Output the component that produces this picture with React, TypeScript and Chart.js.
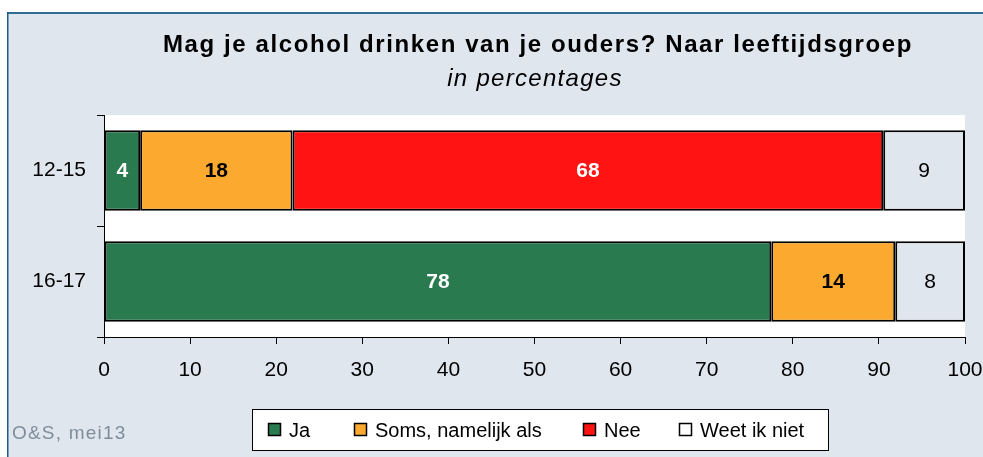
import React, { useEffect, useRef } from 'react';
import { Chart, registerables } from 'chart.js';

Chart.register(...registerables);

const categories = ['12-15', '16-17'];
const seriesNames = ['Ja', 'Soms, namelijk als', 'Nee', 'Weet ik niet'];
const seriesColors = ['#2a7a50', '#fbaa2f', '#ff1313', '#dfe6ee'];
const jaValues = [4.2, 77.5];
const somsValues = [17.7, 14.4];
const neeValues = [68.6, 0];
const weetValues = [9.5, 8.1];
const jaLabels = ['4', '78'];
const somsLabels = ['18', '14'];
const neeLabels = ['68', ''];
const weetLabels = ['9', '8'];
const labelColors = ['#ffffff', '#000000', '#ffffff', '#000000'];
const labelBold = [true, true, true, false];
const titleText = 'Mag je alcohol drinken van je ouders? Naar leeftijdsgroep';
const subtitleText = 'in percentages';
const sourceText = 'O&S, mei13';

const FONT = '"Liberation Sans", Arial, sans-serif';
const BG = '#dfe6ee';

const framePlugin = {
  id: 'frame',
  beforeDraw(chart: any) {
    const { ctx, width, height, chartArea } = chart;
    ctx.save();
    ctx.fillStyle = '#ffffff';
    ctx.fillRect(0, 0, width, height);
    ctx.fillStyle = BG;
    ctx.fillRect(7, 12, width - 7, height - 12);
    ctx.fillStyle = '#2e6e95';
    ctx.fillRect(7, 12, width - 7, 2);
    ctx.fillStyle = '#1f5a85';
    ctx.fillRect(7, 12, 1.5, height - 12);
    ctx.fillStyle = '#ffffff';
    ctx.fillRect(chartArea.left, chartArea.top, chartArea.right - chartArea.left, chartArea.bottom - chartArea.top);
    ctx.restore();
  },
};

const labelsPlugin = {
  id: 'barLabels',
  afterDatasetsDraw(chart: any) {
    const { ctx } = chart;
    const allLabels = [jaLabels, somsLabels, neeLabels, weetLabels];
    ctx.save();
    ctx.textAlign = 'center';
    ctx.textBaseline = 'middle';
    chart.data.datasets.forEach((ds: any, di: number) => {
      const meta = chart.getDatasetMeta(di);
      meta.data.forEach((el: any, i: number) => {
        const txt = allLabels[di][i];
        if (!txt) return;
        const cx = (el.x + el.base) / 2;
        ctx.font = `${labelBold[di] ? 'bold ' : ''}21px ${FONT}`;
        ctx.fillStyle = labelColors[di];
        ctx.fillText(txt, cx, el.y + 1);
      });
    });
    ctx.restore();
  },
  afterDraw(chart: any) {
    const { ctx } = chart;
    ctx.save();
    ctx.fillStyle = '#000000';
    ctx.textAlign = 'center';
    ctx.textBaseline = 'alphabetic';
    (ctx as any).letterSpacing = '1.6px';
    ctx.font = `bold 24px ${FONT}`;
    ctx.fillText(titleText, 538, 52);
    (ctx as any).letterSpacing = '1.3px';
    ctx.font = `italic 24px ${FONT}`;
    ctx.fillText(subtitleText, 535, 86);

    // source note
    (ctx as any).letterSpacing = '1.2px';
    ctx.textAlign = 'left';
    ctx.font = `19px ${FONT}`;
    ctx.fillStyle = '#7f8d9b';
    ctx.fillText(sourceText, 12, 439);

    // legend
    (ctx as any).letterSpacing = '0px';
    ctx.fillStyle = '#ffffff';
    ctx.fillRect(252.5, 409.5, 576, 41);
    ctx.strokeStyle = '#000000';
    ctx.lineWidth = 1;
    ctx.strokeRect(252.5, 409.5, 576, 41);
    const boxX = [268, 354, 583, 679];
    ctx.font = `20px ${FONT}`;
    seriesNames.forEach((name, i) => {
      ctx.fillStyle = i === 3 ? '#ffffff' : seriesColors[i];
      ctx.fillRect(boxX[i] + 0.5, 423.5, 12, 12);
      ctx.strokeStyle = '#000000';
      ctx.lineWidth = 1.5;
      ctx.strokeRect(boxX[i] + 0.5, 423.5, 12, 12);
      ctx.fillStyle = '#000000';
      ctx.fillText(name, boxX[i] + 21, 437);
    });
    ctx.restore();
  },
};

export default function App() {
  const canvasRef = useRef<HTMLCanvasElement | null>(null);

  useEffect(() => {
    const canvas = canvasRef.current;
    if (!canvas) return;
    const valueSets = [jaValues, somsValues, neeValues, weetValues];
    const chart = new Chart(canvas, {
      type: 'bar',
      data: {
        labels: categories,
        datasets: seriesNames.map((name, i) => ({
          label: name,
          data: valueSets[i],
          backgroundColor: seriesColors[i],
          borderColor: '#000000',
          borderWidth: 2,
          borderSkipped: false,
          categoryPercentage: 1,
          barPercentage: 0.725,
        })),
      },
      options: {
        indexAxis: 'y',
        animation: false,
        responsive: false,
        devicePixelRatio: 1,
        layout: { padding: { top: 115, right: 18, left: 0, bottom: 0 } },
        plugins: {
          legend: { display: false },
          title: { display: false },
          tooltip: { enabled: false },
        },
        scales: {
          x: {
            stacked: true,
            min: 0,
            max: 100,
            ticks: {
              stepSize: 10,
              color: '#000000',
              font: { family: FONT, size: 21 },
              padding: 14,
              maxRotation: 0,
            },
            grid: {
              drawOnChartArea: false,
              drawTicks: true,
              tickLength: 7,
              color: '#000000',
            },
            border: { display: true, color: '#000000', width: 1 },
            afterFit(scale: any) {
              scale.height = 120;
              scale.paddingLeft = 0;
              scale.paddingRight = 0;
            },
          },
          y: {
            stacked: true,
            ticks: {
              color: '#000000',
              font: { family: FONT, size: 21 },
              padding: 11,
            },
            grid: {
              offset: true,
              drawOnChartArea: false,
              drawTicks: true,
              tickLength: 7,
              color: '#000000',
            },
            border: { display: true, color: '#000000', width: 1 },
            afterFit(scale: any) {
              scale.width = 104;
              scale.paddingTop = 0;
              scale.paddingBottom = 0;
            },
          },
        },
      },
      plugins: [framePlugin, labelsPlugin],
    } as any);
    return () => chart.destroy();
  }, []);

  return (
    <div style={{ position: 'absolute', left: 0, top: 0, width: 983, height: 457, background: '#fff' }}>
      <canvas ref={canvasRef} width={983} height={457} style={{ display: 'block', width: 983, height: 457 }} />
    </div>
  );
}
